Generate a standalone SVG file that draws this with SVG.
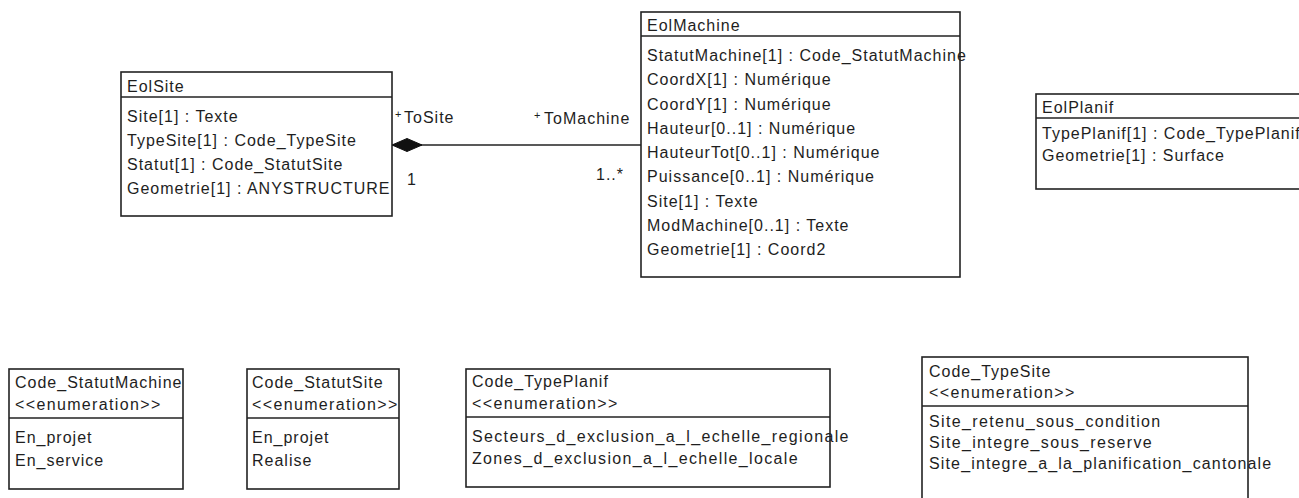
<svg xmlns="http://www.w3.org/2000/svg" width="1299" height="498" viewBox="0 0 1299 498">
  <style>
    .box { fill: #ffffff; stroke: #222222; stroke-width: 1.6; }
    .div { stroke: #222222; stroke-width: 1.6; }
    .t { font-family: "Liberation Sans", Arial, sans-serif; font-size: 16px; letter-spacing: 1px; fill: #1e1e1e; }
    .w { letter-spacing: 1.35px; }
    .plus { font-family: "Liberation Sans", Arial, sans-serif; font-size: 11px; fill: #1e1e1e; }
    .conn { stroke: #222222; stroke-width: 1.6; fill: none; }
    .diamond { fill: #111111; stroke: #111111; stroke-width: 1; }
  </style>
  <rect x="0" y="0" width="1299" height="498" fill="#ffffff"/>

  <g id="connectors">
    <line class="conn" x1="392" y1="145" x2="641" y2="145"/>
    <polygon class="diamond" points="392,145 407,138.5 422,145 407,151.5"/>
    <text class="plus" x="395" y="117.5">+</text>
    <text class="t" x="404" y="123">ToSite</text>
    <text class="t" x="407" y="185">1</text>
    <text class="plus" x="534" y="119">+</text>
    <text class="t" x="544" y="124">ToMachine</text>
    <text class="t" x="596" y="180">1..*</text>
  </g>

  <g id="EolSite">
    <rect class="box" x="121" y="72" width="271" height="144"/>
    <line class="div" x1="121" y1="97" x2="392" y2="97"/>
    <text class="t" x="127" y="92">EolSite</text>
    <text class="t" x="127" y="122">Site[1] : Texte</text>
    <text class="t" x="127" y="146">TypeSite[1] : Code_TypeSite</text>
    <text class="t" x="127" y="170">Statut[1] : Code_StatutSite</text>
    <text class="t" x="127" y="194">Geometrie[1] : ANYSTRUCTURE</text>
  </g>

  <g id="EolMachine">
    <rect class="box" x="641" y="12" width="319" height="265"/>
    <line class="div" x1="641" y1="36" x2="960" y2="36"/>
    <text class="t" x="647" y="31">EolMachine</text>
    <text class="t" x="647" y="61">StatutMachine[1] : Code_StatutMachine</text>
    <text class="t" x="647" y="85.2">CoordX[1] : Numérique</text>
    <text class="t" x="647" y="109.5">CoordY[1] : Numérique</text>
    <text class="t" x="647" y="133.7">Hauteur[0..1] : Numérique</text>
    <text class="t" x="647" y="158">HauteurTot[0..1] : Numérique</text>
    <text class="t" x="647" y="182.2">Puissance[0..1] : Numérique</text>
    <text class="t" x="647" y="206.5">Site[1] : Texte</text>
    <text class="t" x="647" y="230.7">ModMachine[0..1] : Texte</text>
    <text class="t" x="647" y="255">Geometrie[1] : Coord2</text>
  </g>

  <g id="EolPlanif">
    <rect class="box" x="1036" y="94" width="280" height="95"/>
    <line class="div" x1="1036" y1="118" x2="1316" y2="118"/>
    <text class="t" x="1042" y="113">EolPlanif</text>
    <text class="t" x="1042" y="139">TypePlanif[1] : Code_TypePlanif</text>
    <text class="t" x="1042" y="161">Geometrie[1] : Surface</text>
  </g>

  <g id="Code_StatutMachine">
    <rect class="box" x="9" y="369" width="174" height="120"/>
    <line class="div" x1="9" y1="418" x2="183" y2="418"/>
    <text class="t" x="15" y="388">Code_StatutMachine</text>
    <text class="t w" x="15" y="410">&lt;&lt;enumeration&gt;&gt;</text>
    <text class="t" x="15" y="443">En_projet</text>
    <text class="t" x="15" y="466">En_service</text>
  </g>

  <g id="Code_StatutSite">
    <rect class="box" x="247" y="369" width="152" height="120"/>
    <line class="div" x1="247" y1="418" x2="399" y2="418"/>
    <text class="t" x="252" y="388">Code_StatutSite</text>
    <text class="t w" x="252" y="410">&lt;&lt;enumeration&gt;&gt;</text>
    <text class="t" x="252" y="443">En_projet</text>
    <text class="t" x="252" y="466">Realise</text>
  </g>

  <g id="Code_TypePlanif">
    <rect class="box" x="466" y="369" width="364" height="118"/>
    <line class="div" x1="466" y1="417" x2="830" y2="417"/>
    <text class="t" x="472" y="387">Code_TypePlanif</text>
    <text class="t w" x="472" y="409">&lt;&lt;enumeration&gt;&gt;</text>
    <text class="t w" x="472" y="442">Secteurs_d_exclusion_a_l_echelle_regionale</text>
    <text class="t w" x="472" y="464">Zones_d_exclusion_a_l_echelle_locale</text>
  </g>

  <g id="Code_TypeSite">
    <rect class="box" x="922" y="357" width="326" height="160"/>
    <line class="div" x1="922" y1="406" x2="1248" y2="406"/>
    <text class="t" x="929" y="377">Code_TypeSite</text>
    <text class="t w" x="929" y="398">&lt;&lt;enumeration&gt;&gt;</text>
    <text class="t w" x="929" y="427">Site_retenu_sous_condition</text>
    <text class="t w" x="929" y="448">Site_integre_sous_reserve</text>
    <text class="t" x="929" y="469" style="letter-spacing:1.15px">Site_integre_a_la_planification_cantonale</text>
  </g>
</svg>
